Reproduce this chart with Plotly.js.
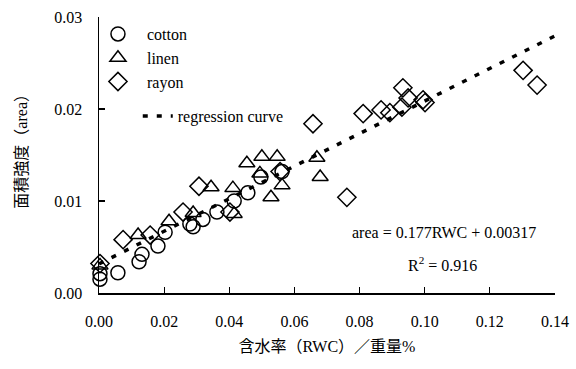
<!DOCTYPE html>
<html>
<head>
<meta charset="utf-8">
<script src="https://cdn.plot.ly/plotly-3.0.1.min.js"></script>
<style>html,body{margin:0;padding:0;background:#fff}#chart{width:576px;height:369px}</style>
</head>
<body>
<div id="chart"></div>
<script>
// ---- data ----
const cottonX = [0.0003,0.0003,0.0058,0.0123,0.0132,0.0181,0.0203,0.0279,0.0289,0.0319,0.0362,0.0415,0.0457,0.0497,0.0562];
const cottonY = [0.0021,0.0015,0.0022,0.0034,0.0042,0.0051,0.0066,0.0075,0.0072,0.0080,0.0088,0.0100,0.0109,0.0126,0.0132];
const linenX = [0.0003,0.0120,0.0215,0.0289,0.0344,0.0411,0.0415,0.0454,0.0500,0.0547,0.0494,0.0562,0.0528,0.0669,0.0679];
const linenY = [0.0030,0.0063,0.0078,0.0087,0.0115,0.0114,0.0086,0.0141,0.0148,0.0148,0.0130,0.0117,0.0104,0.0147,0.0126];
const rayonX = [0.0003,0.0074,0.0157,0.0258,0.0307,0.0402,0.0556,0.0657,0.0761,0.0811,0.0866,0.0893,0.0933,0.0949,0.0930,0.0995,0.1001,0.1302,0.1345];
const rayonY = [0.0032,0.0058,0.0063,0.0088,0.0116,0.0088,0.0132,0.0184,0.0104,0.0195,0.0199,0.0196,0.0223,0.0212,0.0202,0.0210,0.0207,0.0242,0.0226];
const slope = 0.177, intercept = 0.00317;
const regX = [0, 0.14];
const regY = regX.map(x => slope * x + intercept);
const xTicks = [0,0.02,0.04,0.06,0.08,0.10,0.12,0.14];
const yTicks = [0,0.01,0.02,0.03];
const xTitle = '含水率（RWC）／重量%';
const yTitle = '面積強度（area）';

const serif = '"Liberation Serif", "Noto Sans CJK JP", serif';
const mk = (sym) => ({symbol: sym, size: 14, color: '#000', line: {width: 1.5, color: '#000'}});

const traces = [
  {x: cottonX, y: cottonY, type: 'scatter', mode: 'markers', name: 'cotton', marker: mk('circle-open'), cliponaxis: false},
  {x: linenX, y: linenY, type: 'scatter', mode: 'markers', name: 'linen', marker: mk('triangle-up-open'), cliponaxis: false},
  {x: rayonX, y: rayonY, type: 'scatter', mode: 'markers', name: 'rayon', marker: mk('diamond-open'), cliponaxis: false},
  {x: regX, y: regY, type: 'scatter', mode: 'lines', name: 'regression curve', legend: 'legend2',
   line: {color: '#000', width: 3.5, dash: '5px,9px'}}
];

const axisCommon = {
  showline: true, linecolor: '#000', linewidth: 1.5, mirror: false,
  showgrid: false, zeroline: false, automargin: false,
  ticks: 'inside', ticklen: 6, tickwidth: 1.2, tickcolor: '#000',
  tickfont: {family: serif, size: 16, color: '#000'},
  tickformat: '.2f'
};

const layout = {
  width: 576, height: 369,
  margin: {l: 99, r: 21, t: 17, b: 76},
  paper_bgcolor: '#fff', plot_bgcolor: '#fff',
  font: {family: serif, color: '#000'},
  xaxis: Object.assign({}, axisCommon, {
    range: [0, 0.14], tickvals: xTicks, ticklabelstandoff: 13,
    title: {text: xTitle, font: {family: serif, size: 16, color: '#000'}}
  }),
  yaxis: Object.assign({}, axisCommon, {
    range: [0, 0.03], tickvals: yTicks, ticklabelstandoff: 12
  }),
  showlegend: true,
  legend: {x: -0.022, y: 1.0, xanchor: 'left', yanchor: 'top', bgcolor: 'rgba(0,0,0,0)',
           font: {family: serif, size: 16, color: '#000'}, itemwidth: 48, tracegroupgap: 0},
  legend2: {x: 0.085, y: 0.641, xanchor: 'left', yanchor: 'middle', bgcolor: 'rgba(0,0,0,0)',
           font: {family: serif, size: 16, color: '#000'}},
  annotations: [
    {xref: 'paper', yref: 'paper', x: -0.169, y: 0.53, xanchor: 'center', yanchor: 'middle',
     text: yTitle, textangle: -90, showarrow: false,
     font: {family: serif, size: 16, color: '#000'}},
    {xref: 'paper', yref: 'paper', x: 0.756, y: 0.221, xanchor: 'center', yanchor: 'middle',
     text: 'area = 0.177RWC + 0.00317', showarrow: false,
     font: {family: serif, size: 16, color: '#000'}},
    {xref: 'paper', yref: 'paper', x: 0.754, y: 0.105, xanchor: 'center', yanchor: 'middle',
     text: 'R<sup>2</sup> = 0.916', showarrow: false,
     font: {family: serif, size: 16, color: '#000'}}
  ]
};

Plotly.newPlot('chart', traces, layout, {displayModeBar: false, staticPlot: true});
</script>
</body>
</html>
